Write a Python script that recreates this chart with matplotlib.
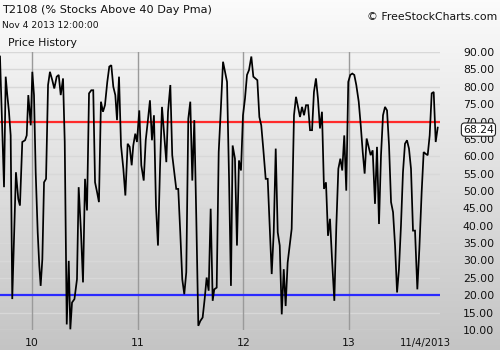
import numpy as np
import matplotlib
matplotlib.use("Agg")
import matplotlib.pyplot as plt

# ---- data (dates as fractional years, T2108 values) ----
t = [2009.697, 2009.735, 2009.751, 2009.766, 2009.782, 2009.798, 2009.813, 2009.830,
     2009.848, 2009.870, 2009.886, 2009.908, 2009.934, 2009.950, 2009.965, 2009.978,
     2009.988, 2010.003, 2010.019, 2010.035, 2010.054, 2010.069, 2010.082, 2010.098,
     2010.114, 2010.133, 2010.152, 2010.170, 2010.192, 2010.211, 2010.234, 2010.253,
     2010.272, 2010.294, 2010.310, 2010.329, 2010.348, 2010.363, 2010.379, 2010.402,
     2010.426, 2010.442, 2010.464, 2010.483, 2010.502, 2010.521, 2010.540, 2010.562,
     2010.580, 2010.597, 2010.616, 2010.634, 2010.653, 2010.672, 2010.691, 2010.713,
     2010.732, 2010.751, 2010.770, 2010.789, 2010.805, 2010.824, 2010.843, 2010.865,
     2010.884, 2010.906, 2010.925, 2010.944, 2010.959, 2010.978, 2010.994, 2011.016,
     2011.035, 2011.058, 2011.077, 2011.096, 2011.117, 2011.136, 2011.155, 2011.174,
     2011.193, 2011.212, 2011.231, 2011.250, 2011.272, 2011.288, 2011.310, 2011.328,
     2011.347, 2011.366, 2011.385, 2011.404, 2011.423, 2011.442, 2011.461, 2011.480,
     2011.499, 2011.518, 2011.537, 2011.556, 2011.575, 2011.594, 2011.616, 2011.635,
     2011.654, 2011.673, 2011.692, 2011.711, 2011.726, 2011.749, 2011.768, 2011.787,
     2011.809, 2011.828, 2011.847, 2011.866, 2011.884, 2011.900, 2011.922, 2011.941,
     2011.960, 2011.979, 2011.998, 2012.017, 2012.036, 2012.055, 2012.077, 2012.096,
     2012.115, 2012.134, 2012.153, 2012.171, 2012.190, 2012.213, 2012.232, 2012.251,
     2012.270, 2012.289, 2012.308, 2012.327, 2012.346, 2012.365, 2012.384, 2012.402,
     2012.421, 2012.440, 2012.459, 2012.481, 2012.500, 2012.519, 2012.538, 2012.557,
     2012.576, 2012.595, 2012.614, 2012.633, 2012.652, 2012.670, 2012.689, 2012.708,
     2012.727, 2012.746, 2012.765, 2012.784, 2012.803, 2012.822, 2012.841, 2012.863,
     2012.882, 2012.901, 2012.920, 2012.938, 2012.957, 2012.976, 2012.995, 2013.014,
     2013.033, 2013.052, 2013.071, 2013.094, 2013.113, 2013.132, 2013.150, 2013.169,
     2013.188, 2013.207, 2013.226, 2013.248, 2013.267, 2013.286, 2013.305, 2013.324,
     2013.343, 2013.362, 2013.381, 2013.400, 2013.419, 2013.438, 2013.457, 2013.475,
     2013.494, 2013.513, 2013.532, 2013.551, 2013.570, 2013.589, 2013.608, 2013.627,
     2013.649, 2013.668, 2013.690, 2013.709, 2013.728, 2013.747, 2013.766, 2013.785,
     2013.804, 2013.823, 2013.842]

values = [88.7, 51.1, 82.9, 77.6, 72.8, 66.0, 18.9, 36.2,
          55.4, 47.7, 45.8, 64.1, 64.6, 66.0, 77.6, 72.8,
          68.9, 84.3, 77.6, 55.4, 38.1, 28.5, 22.7, 30.4,
          52.5, 53.5, 80.5, 84.3, 81.9, 79.5, 82.9, 83.4,
          77.6, 82.4, 64.1, 11.6, 29.9, 10.2, 17.9, 18.9,
          24.6, 51.1, 38.1, 23.7, 53.5, 44.4, 78.1, 79.0,
          79.0, 52.5, 49.7, 46.8, 75.7, 72.8, 74.7, 81.4,
          85.8, 86.2, 80.0, 77.6, 70.4, 82.9, 63.1, 56.4,
          48.7, 63.6, 62.7, 57.4, 63.1, 66.5, 64.1, 73.2,
          57.4, 53.0, 64.6, 69.9, 76.1, 64.6, 71.8, 45.8,
          34.3, 56.4, 74.2, 67.0, 58.3, 72.8, 80.5, 60.3,
          55.4, 50.6, 50.6, 38.1, 24.6, 20.3, 26.6, 70.8,
          75.7, 53.0, 70.4, 42.0, 11.2, 12.6, 13.6, 18.9,
          25.1, 21.3, 44.9, 18.4, 21.7, 22.2, 61.2, 72.8,
          87.2, 84.3, 81.4, 53.5, 22.7, 63.1, 59.3, 34.3,
          58.8, 55.9, 71.8, 76.6, 83.4, 84.8, 88.7, 82.9,
          82.4, 81.9, 71.3, 68.9, 62.2, 53.5, 53.5, 40.0,
          26.1, 38.1, 62.2, 38.1, 34.3, 14.5, 27.5, 16.9,
          29.4, 34.3, 39.1, 71.8, 77.1, 74.2, 71.3, 74.2,
          71.8, 74.7, 74.7, 67.5, 67.5, 78.5, 82.4, 76.6,
          68.0, 72.8, 50.6, 52.5, 37.1, 42.0, 30.4, 18.4,
          40.0, 56.4, 59.3, 55.9, 66.0, 50.1, 81.4, 83.4,
          83.8, 83.4, 80.5, 75.7, 68.9, 61.2, 55.0, 65.1,
          62.7, 60.3, 61.7, 46.3, 62.7, 40.5, 60.3, 71.8,
          74.2, 73.2, 63.1, 46.8, 43.9, 34.3, 20.8, 27.5,
          40.0, 55.4, 63.6, 64.6, 62.2, 56.4, 38.6, 38.6,
          21.7, 33.3, 49.7, 61.2, 60.7, 60.3, 66.0, 78.1,
          78.5, 64.1, 68.24]

year_ticks = [2010, 2011, 2012, 2013]
year_labels = ["10", "11", "12", "13"]
y_ticks = list(range(10, 95, 5))
upper_level = 70
lower_level = 20
last_label = "11/4/2013"

# ---- figure ----
W, H = 500, 350
fig = plt.figure(figsize=(W / 100, H / 100), dpi=100)

# background gradient
bg = fig.add_axes([0, 0, 1, 1], zorder=-10)
grad = np.linspace(0.985, 0.77, 256).reshape(-1, 1)
bg.imshow(np.dstack([grad, grad, grad]), aspect="auto", extent=[0, 1, 0, 1],
          interpolation="bilinear")
bg.set_axis_off()

left, right = 0 / W, 440 / W
bottom, top = (H - 330) / H, (H - 52) / H
ax = fig.add_axes([left, bottom, right - left, top - bottom])
ax.patch.set_alpha(0)
for s in ax.spines.values():
    s.set_visible(False)

xmin = 2009.697
xmax = xmin + 440 / 105.6
ax.set_xlim(xmin, xmax)
ax.set_ylim(10, 90)

# grid
for yv in y_ticks:
    ax.axhline(yv, color="#d8d8d8", lw=1.0, zorder=1)
for xv in year_ticks:
    ax.axvline(xv, color="#9a9a9a", lw=1.0, zorder=1)

ax.axhline(upper_level, color="#ff2a2a", lw=1.6, zorder=2)
ax.axhline(lower_level, color="#2a2aff", lw=1.6, zorder=2)

ax.plot(t, values, color="black", lw=1.25, zorder=3, solid_joinstyle="miter")

# ticks
ax.yaxis.tick_right()
ax.set_yticks(y_ticks)
ax.set_yticklabels([f"{v:.2f}" for v in y_ticks], fontsize=7.8, color="#111111")
ax.tick_params(axis="y", length=0, pad=16.5)
for lbl in ax.get_yticklabels():
    lbl.set_horizontalalignment("left")

ax.set_xticks(year_ticks)
ax.set_xticklabels(year_labels, fontsize=7.8, color="#111111")
ax.tick_params(axis="x", length=0, pad=6)

ax.annotate(last_label, xy=(t[-1], 0), xycoords=("data", "axes fraction"),
            xytext=(-12, -13), textcoords="offset pixels",
            ha="center", va="center", fontsize=7.2, color="#111111",
            annotation_clip=False)

# last value box
ax.annotate(f"{values[-1]:.2f}", xy=(1, values[-1]), xycoords=("axes fraction", "data"),
            xytext=(23, -2), textcoords="offset pixels", ha="left", va="center",
            fontsize=7.8, color="#111111", zorder=10, annotation_clip=False,
            bbox=dict(boxstyle="round,pad=0.15,rounding_size=0.3", fc="white",
                      ec="#222222", lw=0.8))

# header texts
fig.text(2 / W, 1 - 10 / H, "T2108 (% Stocks Above 40 Day Pma)", fontsize=8.1,
         ha="left", va="center", color="#111111")
fig.text(2 / W, 1 - 25 / H, "Nov 4 2013 12:00:00", fontsize=6.6,
         ha="left", va="center", color="#111111")
fig.text(8 / W, 1 - 43 / H, "Price History", fontsize=7.8,
         ha="left", va="center", color="#111111")
fig.text(497 / W, 1 - 17 / H, "\u00a9 FreeStockCharts.com", fontsize=7.8,
         ha="right", va="center", color="#111111")

fig.savefig("out.png", dpi=100)
